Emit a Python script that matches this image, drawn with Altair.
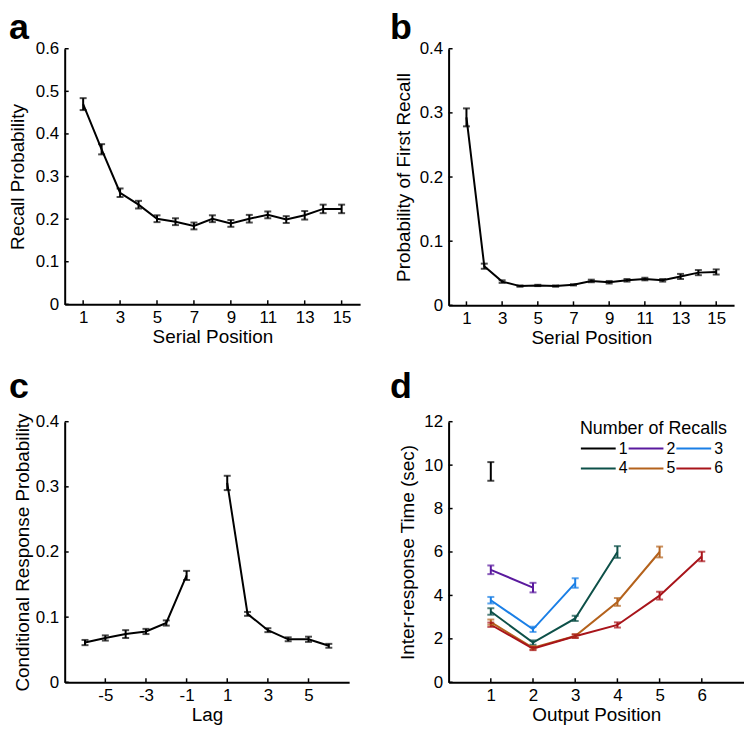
import altair as alt
import pandas as pd

FONT = "Liberation Sans"

# ---------------- data ----------------
# panel a: serial position curve
a_pos = list(range(1, 16))
a_mean = [0.470, 0.364, 0.262, 0.234, 0.201, 0.194, 0.184, 0.201, 0.190, 0.201, 0.210, 0.199, 0.209, 0.224, 0.224]
a_err = [0.014, 0.012, 0.010, 0.009, 0.008, 0.008, 0.008, 0.008, 0.008, 0.009, 0.008, 0.008, 0.010, 0.010, 0.010]

# panel b: probability of first recall
b_pos = list(range(1, 16))
b_mean = [0.293, 0.061, 0.037, 0.030, 0.031, 0.030, 0.032, 0.038, 0.036, 0.039, 0.041, 0.039, 0.045, 0.051, 0.052]
b_err = [0.014, 0.004, 0.002, 0.001, 0.001, 0.001, 0.001, 0.002, 0.002, 0.002, 0.002, 0.002, 0.004, 0.004, 0.004]

# panel c: lag-CRP
c_lag = [-6, -5, -4, -3, -2, -1, 1, 2, 3, 4, 5, 6]
c_mean = [0.061, 0.068, 0.074, 0.078, 0.091, 0.164, 0.306, 0.105, 0.080, 0.066, 0.066, 0.056]
c_err = [0.004, 0.004, 0.006, 0.004, 0.004, 0.007, 0.011, 0.003, 0.003, 0.003, 0.004, 0.003]

# panel d: inter-response times by number of recalls
d_series = ["1", "2", "3", "4", "5", "6"]
d_colors = ["#000000", "#5a1a9e", "#1a7fe6", "#0d5048", "#b4621c", "#a8141a"]
d_mean = [
    [9.71],
    [5.18, 4.36],
    [3.78, 2.44, 4.57],
    [3.26, 1.83, 2.94, 6.00],
    [2.77, 1.59, 2.13, 3.70, 6.00],
    [2.65, 1.55, 2.12, 2.64, 3.99, 5.79],
]
d_err = [
    [0.43],
    [0.20, 0.22],
    [0.15, 0.12, 0.22],
    [0.15, 0.10, 0.12, 0.27],
    [0.12, 0.08, 0.08, 0.18, 0.25],
    [0.10, 0.07, 0.08, 0.12, 0.18, 0.22],
]

a_xticks = [1, 3, 5, 7, 9, 11, 13, 15]
a_yticks = [0, 0.1, 0.2, 0.3, 0.4, 0.5, 0.6]
b_yticks = [0, 0.1, 0.2, 0.3, 0.4]
c_xticks = [-5, -3, -1, 1, 3, 5]
d_xticks = [1, 2, 3, 4, 5, 6]
d_yticks = [0, 2, 4, 6, 8, 10, 12]


def frame(xs, ms, es, groups=None, series=None):
    df = pd.DataFrame({"x": xs, "m": ms, "e": es})
    df["lo"] = df["m"] - df["e"]
    df["hi"] = df["m"] + df["e"]
    df["g"] = groups if groups is not None else "all"
    if series is not None:
        df["s"] = series
    return df


df_a = frame(a_pos, a_mean, a_err)
df_b = frame(b_pos, b_mean, b_err)
df_c = frame(c_lag, c_mean, c_err, groups=["neg" if l < 0 else "pos" for l in c_lag])
rows = []
for s, ms, es in zip(d_series, d_mean, d_err):
    for i, (m, e) in enumerate(zip(ms, es)):
        rows.append((i + 1, m, e, s))
df_d = frame([r[0] for r in rows], [r[1] for r in rows], [r[2] for r in rows],
             groups=[r[3] for r in rows], series=[r[3] for r in rows])


def panel(df, W, H, xdom, ydom, xticks, yticks, xtitle, ytitle, letter,
          yfmt, ytitlepad, ldx, ldy, colored=False, legend=None):
    xs = alt.Scale(domain=xdom, nice=False, zero=False)
    ys = alt.Scale(domain=ydom, nice=False, zero=False)
    xax = alt.Axis(values=xticks, title=xtitle, labelExpr="datum.value + ''")
    yax = alt.Axis(values=yticks, title=ytitle, format=yfmt, titlePadding=ytitlepad)
    base = alt.Chart(df)
    if colored:
        col = alt.Color("s:N", scale=alt.Scale(domain=d_series, range=d_colors),
                        legend=legend)
    else:
        col = alt.value("black")
    line = base.mark_line(strokeWidth=2).encode(
        x=alt.X("x:Q", scale=xs, axis=xax),
        y=alt.Y("m:Q", scale=ys, axis=yax),
        detail="g:N",
        color=col,
    )
    bar = base.mark_rule(strokeWidth=2).encode(
        x=alt.X("x:Q", scale=xs, axis=xax),
        y=alt.Y("lo:Q", scale=ys, axis=yax),
        y2="hi:Q",
        color=col,
    )
    cap_lo = base.mark_tick(orient="horizontal", size=7, thickness=2).encode(
        x=alt.X("x:Q", scale=xs, axis=xax),
        y=alt.Y("lo:Q", scale=ys, axis=yax),
        color=col,
    )
    cap_hi = base.mark_tick(orient="horizontal", size=7, thickness=2).encode(
        x=alt.X("x:Q", scale=xs, axis=xax),
        y=alt.Y("hi:Q", scale=ys, axis=yax),
        color=col,
    )
    xt = alt.Chart(pd.DataFrame({"t": xticks})).mark_rule(color="black", strokeWidth=1.5).encode(
        x=alt.X("t:Q", scale=xs, axis=xax),
        y=alt.value(H),
        y2=alt.value(H - 4),
    )
    yt = alt.Chart(pd.DataFrame({"t": yticks})).mark_rule(color="black", strokeWidth=1.5).encode(
        y=alt.Y("t:Q", scale=ys, axis=yax),
        x=alt.value(0),
        x2=alt.value(4),
    )
    return alt.layer(xt, yt, line, bar, cap_lo, cap_hi).properties(
        width=W, height=H,
        title=alt.TitleParams(letter, anchor="start", frame="group", fontSize=36,
                              fontWeight="bold", font=FONT, baseline="alphabetic",
                              dx=ldx, dy=ldy, offset=7, color="black"),
    )


leg = alt.Legend(
    title="Number of Recalls", orient="none", legendX=518, legendY=373,
    direction="horizontal", columns=3, symbolType="stroke", symbolSize=1225,
    symbolStrokeWidth=2, labelFontSize=16, titleFontSize=18, titleFontWeight="normal",
    labelFont=FONT, titleFont=FONT, labelColor="black", titleColor="black",
    columnPadding=0, rowPadding=2, clipHeight=18, labelOffset=2, titlePadding=2,
    symbolOpacity=1,
)

pa = panel(df_a, 297, 257, [0, 16], [0, 0.6], a_xticks, a_yticks, "Serial Position",
           "Recall Probability", "a", ".1~f", 8, -56, 42)
pb = panel(df_b, 287, 258, [0, 16], [0, 0.4], a_xticks, b_yticks, "Serial Position",
           "Probability of First Recall", "b", ".1~f", 6, -59, 42)
pc = panel(df_c, 286, 262, [-7, 7], [0, 0.4], c_xticks, b_yticks, "Lag",
           "Conditional Response Probability", "c", ".1~f", 3, -56, 28)
pd_ = panel(df_d, 297, 262, [0, 7], [0, 12], d_xticks, d_yticks, "Output Position",
            "Inter-response Time (sec)", "d", "d", 6, -59, 28, colored=True, legend=leg)

top = alt.hconcat(pa, pb, spacing=30)
bottom = alt.hconcat(pc, pd_, spacing=41)
chart = alt.vconcat(top, bottom, spacing=22).properties(padding=0).configure_view(
    stroke=None
).configure_axis(
    grid=False, ticks=False, tickSize=0, domainColor="black", domainWidth=2,
    labelFont=FONT, titleFont=FONT, labelFontSize=17, titleFontSize=19,
    titleFontWeight="normal", labelColor="black", titleColor="black",
    labelPadding=6, titlePadding=4,
).configure_axisY(labelPadding=6).configure_axisX(labelPadding=5, titlePadding=2)

chart.save("out.html", embed_options={"renderer": "svg", "actions": False})
